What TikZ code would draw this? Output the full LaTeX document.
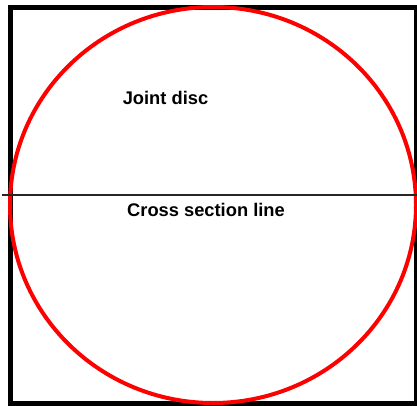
\documentclass[tikz,border=0pt]{standalone}
\usepackage{fontspec}
\setmainfont{Liberation Sans}
\usetikzlibrary{positioning}
\definecolor{disc}{HTML}{FF0000}
\tikzset{
  frame/.style={draw=black,line width=5pt},
  discline/.style={draw=disc,line width=4pt},
  cutline/.style={draw=black!85,line width=2pt},
  lbl/.style={font=\fontsize{18.3}{20}\selectfont\bfseries,inner sep=0pt},
}
\begin{document}
\begin{tikzpicture}[x=1pt,y=-1pt]
\useasboundingbox (0,0) rectangle (417,406);
\draw[frame] (10.5,7.5) rectangle (416.5,403);
\draw[discline] (213,205) ellipse [x radius=203,y radius=198];
\coordinate (cl) at (2,195);
\coordinate (cr) at (417,195);
\draw[cutline] (cl) -- (cr);
\node[lbl] (disc) at (165.5,98) {Joint disc};
\node[lbl] (sect) at (206,209.5) {Cross section line};
\end{tikzpicture}
\end{document}
